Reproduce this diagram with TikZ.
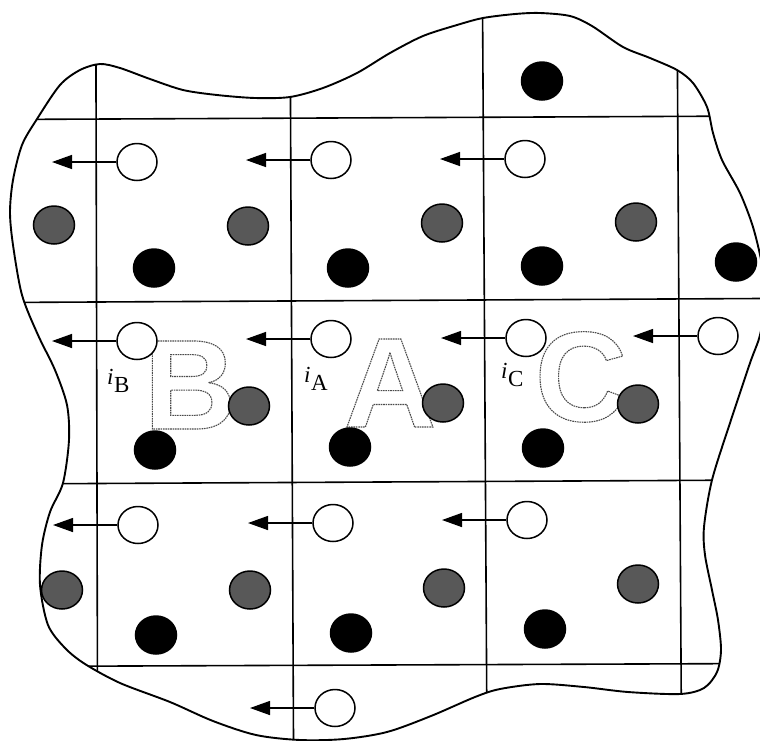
\documentclass[tikz,border=0pt]{standalone}
\usepackage{fontspec}
\setmainfont{Liberation Serif}
\newfontfamily\lettersans{Liberation Sans}
\usepackage{xcolor}
\usepackage{tikz}
\usetikzlibrary{arrows.meta,calc,shapes.geometric}
\definecolor{dotgray}{RGB}{88,88,88}

% hollow (stroked, dashed) big letters
\newcommand{\hollow}[1]{\special{pdf:literal direct 1 Tr 1.1 w [1.6 0.8] 0 d 0.3 G}#1\special{pdf:literal direct 0 Tr [] 0 d 0 G}}
\newcommand{\sitelabel}[1]{\textit{i}\kern0.5pt\raisebox{-8pt}{#1}}

\begin{document}
\begin{tikzpicture}[x=1pt,y=-1pt,
  cell/.style={line width=1.6pt},
  rim/.style={line width=1.9pt},
  dot/.style={ellipse,draw,line width=1.5pt,inner sep=0pt,minimum width=41pt,minimum height=38pt},
  site/.style={dot,fill=white,minimum width=40pt,minimum height=37pt},
  guest/.style={dot,fill=dotgray},
  host/.style={dot,fill=black},
  hop/.style={-{Triangle[length=20pt,width=14pt]},line width=1.4pt},
  tag/.style={inner sep=0pt,anchor=base west,font=\fontsize{23}{23}\selectfont},
  big/.style={inner sep=0pt,anchor=base,font=\lettersans\bfseries\fontsize{128}{128}\selectfont}
]
  \useasboundingbox (0,0) rectangle (760,740);
  \clip (0,0) rectangle (760,740);

  \path[save path=\blob] plot[smooth cycle,tension=0.5] coordinates {
    (37,119) (22,145) (13,180) (10,212) (13,245) (22,295) (38,335) (55,370)
    (67,405) (69,440) (63,483) (50,512) (42,545) (40,585) (48,625) (65,648)
    (85,664) (120,683) (170,702) (213,721) (256,735) (300,740) (344,739)
    (387,732) (431,716) (475,697) (500,689) (540,684) (584,687) (628,692)
    (680,694) (704,688) (717,672) (721,650) (718,620) (712,590) (705,555)
    (704,527) (712,480) (730,423) (750,363) (760,335) (765,300) (762,265)
    (753,227) (740,193) (722,160) (713,133) (707,107) (693,83) (677,70)
    (650,58) (623,47) (592,26) (570,16) (540,13) (515,14) (483,18) (457,25)
    (423,36) (390,53) (357,73) (323,88) (290,97) (255,98) (217,95) (183,90)
    (150,79) (120,68) (100,64) (80,70) (60,85)};

  % cell walls
  \begin{scope}
    \clip[use path=\blob];
    \draw[cell] (95.8,0) -- (97.6,740);
    \draw[cell] (290,0) -- (293.5,740);
    \draw[cell] (482.5,0) -- (487,740);
    \draw[cell] (677,0) -- (681.5,740);
    \draw[cell] (0,119.5) -- (760,116);
    \draw[cell] (0,302.5) -- (760,298.5);
    \draw[cell] (0,484) -- (760,480);
    \draw[cell] (0,666.5) -- (760,663.5);
  \end{scope}
  \draw[rim,use path=\blob];

  \node[big] (bigB) at (190,429) {\hollow{B}};
  \node[big] (bigA) at (390,427) {\hollow{A}};
  \node[big] (bigC) at (581,421) {\hollow{C}};

  \foreach \n/\x/\y in {g1/54/225,g2/248/226,g3/442/223,g4/636/222,
      g5/249/406,g6/443/403,g7/638/404,
      g8/62/590,g9/250/590,g10/444/588,g11/638/584}
    \node[guest] (\n) at (\x,\y) {};
  \foreach \n/\x/\y in {k0/542/81,k1/154/268,k2/348/268,k3/542/266,k4/736/262,
      k5/155/450,k6/350/447,k7/543/448,
      k8/156/635,k9/351/633,k10/545/629}
    \node[host] (\n) at (\x,\y) {};
  \foreach \n/\x/\y in {w1/137/162,w2/331/160,w3/525/159,
      w4/137/341,w5/331/339,w6/526/338,w7/718/336,
      w8/138/525,w9/333/523,w10/527/520,w11/335/708}
    \node[site] (\n) at (\x,\y) {};

  \foreach \i in {1,...,11}{
    \coordinate (t\i) at ($(w\i)+(-85,0)$);
    \draw[hop] (w\i) -- (t\i);
  }

  \node[tag] (iB) at (107,384) {\sitelabel{B}};
  \node[tag] (iA) at (304,382) {\sitelabel{A}};
  \node[tag] (iC) at (501,378) {\sitelabel{C}};
\end{tikzpicture}
\end{document}
